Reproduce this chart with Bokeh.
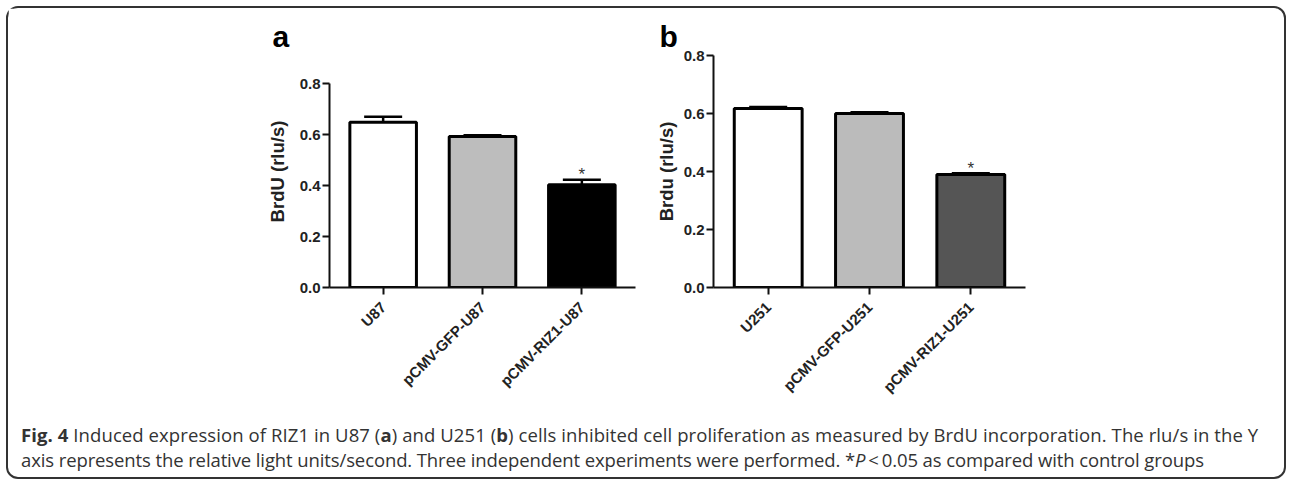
from bokeh.plotting import figure
from bokeh.models import (ColumnDataSource, Whisker, TeeHead, FactorRange, FixedTicker,
                          NumeralTickFormatter, Div)
from bokeh.layouts import row, column
from bokeh.embed import file_html
from bokeh.resources import INLINE
from bokeh.core.properties import value
import math

# ---- data ----
cats_a = ["U87", "pCMV-GFP-U87", "pCMV-RIZ1-U87"]
vals_a = [0.648, 0.592, 0.403]
err_a = [0.022, 0.005, 0.020]
sig_a = ["", "", "*"]
colors_a = ["#ffffff", "#bdbdbd", "#000000"]

cats_b = ["U251", "pCMV-GFP-U251", "pCMV-RIZ1-U251"]
vals_b = [0.617, 0.600, 0.390]
err_b = [0.005, 0.004, 0.004]
sig_b = ["", "", "*"]
colors_b = ["#ffffff", "#bbbbbb", "#555555"]

y_ticks = [0.0, 0.2, 0.4, 0.6, 0.8]

FONT = "Liberation Sans"
TOP = 47
FRAME_H = 232
BOTTOM = 125
HEIGHT = TOP + FRAME_H + BOTTOM


def panel(cats, vals, errs, sig, colors, ylabel, letter, border_left, border_right,
          width, y_end, label_standoff, letter_offset, letter_standoff):
    upper = [v + e for v, e in zip(vals, errs)]
    src = ColumnDataSource(dict(cat=cats, val=vals, upper=upper, sig=sig, color=colors))
    xr = FactorRange(*cats, range_padding=0.04, range_padding_units="absolute")
    p = figure(x_range=xr, y_range=(0, y_end),
               width=width, height=HEIGHT, output_backend="svg", toolbar_location=None,
               min_border_left=border_left, min_border_top=TOP,
               min_border_right=border_right, min_border_bottom=BOTTOM,
               title=letter, sizing_mode="fixed")
    p.title.align = "left"
    p.title.offset = letter_offset
    p.title.standoff = letter_standoff
    p.title.text_font = FONT
    p.title.text_font_style = "bold"
    p.title.text_font_size = "30px"
    p.title.text_color = "#000000"
    p.vbar(x="cat", top="val", width=0.67, source=src, fill_color="color",
           line_color="#000000", line_width=3)
    p.add_layout(Whisker(base="cat", lower="val", upper="upper", source=src,
                         line_color="#000000", line_width=2.5, lower_head=None,
                         upper_head=TeeHead(size=38, line_width=2.5, line_color="#000000")))
    p.text(x="cat", y="upper", text="sig", source=src, text_align="center",
           text_baseline="alphabetic", y_offset=-5, text_font=value(FONT),
           text_font_size="17px", text_color="#333333")
    p.xgrid.visible = False
    p.ygrid.visible = False
    p.outline_line_color = None
    for ax in (p.xaxis[0], p.yaxis[0]):
        ax.axis_line_width = 2
        ax.axis_line_color = "#111111"
        ax.major_tick_line_width = 2
        ax.major_tick_line_color = "#111111"
        ax.major_tick_out = 7
        ax.major_tick_in = 0
        ax.minor_tick_line_color = None
        ax.major_label_text_font = FONT
        ax.major_label_text_font_style = "bold"
        ax.major_label_text_color = "#222222"
    p.yaxis.ticker = FixedTicker(ticks=y_ticks)
    p.yaxis.bounds = (y_ticks[0], y_ticks[-1])
    p.yaxis.formatter = NumeralTickFormatter(format="0.0")
    p.yaxis.major_label_text_font_size = "15px"
    p.yaxis.major_label_standoff = 2
    p.yaxis.axis_label = ylabel
    p.yaxis.axis_label_text_font = FONT
    p.yaxis.axis_label_text_font_style = "bold"
    p.yaxis.axis_label_text_font_size = "18.5px"
    p.yaxis.axis_label_text_color = "#222222"
    p.yaxis.axis_label_standoff = label_standoff
    p.xaxis.major_label_orientation = math.pi / 4
    p.xaxis.major_label_text_font_size = "15px"
    p.xaxis.major_label_standoff = 10
    return p


# panel a: 0.8 sits 204 px above the baseline, panel b: 232 px (frames share height)
pa = panel(cats_a, vals_a, err_a, sig_a, colors_a, "BrdU (rlu/s)", "a",
           border_left=321, border_right=17, width=644, y_end=0.8 * 232 / 204,
           label_standoff=9, letter_offset=-57, letter_standoff=5)
pb = panel(cats_b, vals_b, err_b, sig_b, colors_b, "Brdu (rlu/s)", "b",
           border_left=56, border_right=251, width=624, y_end=0.8,
           label_standoff=4, letter_offset=-54, letter_standoff=5)

line1 = ("<b>Fig. 4</b> Induced expression of RIZ1 in U87 (<b>a</b>) and U251 (<b>b</b>) "
         "cells inhibited cell proliferation as measured by BrdU incorporation. "
         "The rlu/s in the Y")
line2 = ("axis represents the relative light units/second. "
         "Three independent experiments were performed. *<i>P</i>&thinsp;&lt;&thinsp;0.05 as "
         "compared with control groups")

caption = Div(
    text=(f'<span style="letter-spacing:0.09px">{line1}</span><br>'
          f'<span style="letter-spacing:-0.11px">{line2}</span>'),
    width=1276, height=65, sizing_mode="fixed",
    styles={"font-family": "'Open Sans', sans-serif", "font-size": "18.5px",
            "color": "#333333", "line-height": "25px", "padding-left": "8px",
            "padding-top": "5px", "white-space": "nowrap", "box-sizing": "border-box"},
)

top_row = row(pa, pb, width=1276, height=HEIGHT, sizing_mode="fixed")
layout = column(top_row, caption, width=1276, height=HEIGHT + 65, sizing_mode="fixed",
                styles={"outline": "2px solid #333333", "border-radius": "10px",
                        "margin-left": "8px", "margin-top": "8px"})

open("out.html", "w").write(file_html(layout, INLINE))
